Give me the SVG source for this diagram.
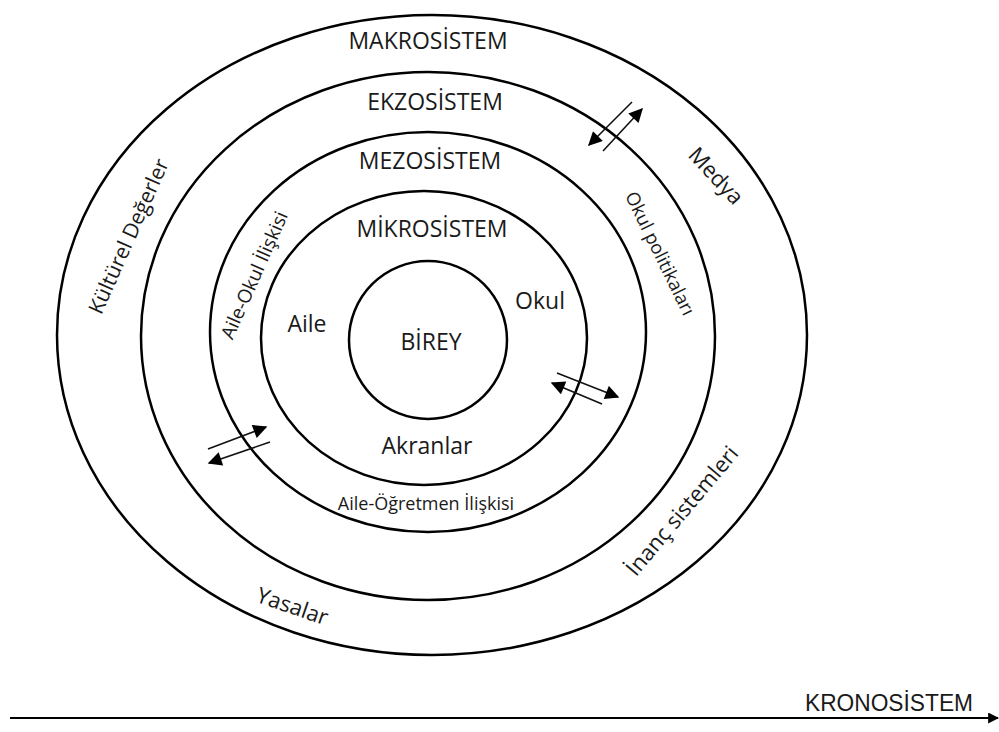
<svg xmlns="http://www.w3.org/2000/svg" width="999" height="732" viewBox="0 0 999 732">
<defs>
<marker id="ahs" viewBox="0 0 10 10" refX="9" refY="5" markerWidth="15" markerHeight="14" orient="auto" markerUnits="userSpaceOnUse">
<path d="M0,0 L10,5 L0,10 z" fill="#000"/>
</marker>
<marker id="ahk" viewBox="0 0 10 10" refX="9" refY="5" markerWidth="11" markerHeight="11" orient="auto" markerUnits="userSpaceOnUse">
<path d="M0,0 L10,5 L0,10 z" fill="#000"/>
</marker>
<style>
.ring{fill:none;stroke:#000;stroke-width:2.5}
.t{font-family:"Open Sans","Noto Sans",sans-serif;fill:#1a1a1a;text-anchor:middle;dominant-baseline:central}
.h{font-size:23px}
.a{stroke:#111;stroke-width:1.6;fill:none;marker-end:url(#ahs)}
</style>
</defs>
<rect width="999" height="732" fill="#fff"/>
<g id="makrosistem">
<ellipse class="ring" cx="432" cy="335" rx="375" ry="320"/>
<text class="t h" x="428" y="40">MAKROSİSTEM</text>
<text class="t" x="128" y="236" font-size="21" transform="rotate(-66 128 236)">Kültürel Değerler</text>
<text class="t" x="717" y="175" font-size="22" transform="rotate(47 717 175)">Medya</text>
<text class="t" x="681" y="510" font-size="22" transform="rotate(-50 681 510)">İnanç sistemleri</text>
<text class="t" x="293" y="605" font-size="22" transform="rotate(19 293 605)">Yasalar</text>
</g>
<g id="ekzosistem">
<ellipse class="ring" cx="428" cy="336" rx="287" ry="264"/>
<text class="t h" x="435" y="101">EKZOSİSTEM</text>
<text class="t" x="661" y="253" font-size="18.5" transform="rotate(64 661 253)">Okul politikaları</text>
</g>
<g id="mezosistem">
<ellipse class="ring" cx="428" cy="332" rx="218" ry="200"/>
<text class="t h" x="430" y="160">MEZOSİSTEM</text>
<text class="t" x="254" y="275" font-size="19" transform="rotate(-66 254 275)">Aile-Okul İlişkisi</text>
<text class="t" x="426" y="503" font-size="18">Aile-Öğretmen İlişkisi</text>
</g>
<g id="mikrosistem">
<ellipse class="ring" cx="424" cy="338" rx="163" ry="147"/>
<text class="t h" x="432" y="228">MİKROSİSTEM</text>
<text class="t h" x="307" y="323">Aile</text>
<text class="t h" x="540" y="300">Okul</text>
<text class="t h" x="427" y="445">Akranlar</text>
</g>
<g id="birey">
<circle class="ring" cx="428" cy="340" r="79"/>
<text class="t h" x="431" y="341">BİREY</text>
</g>
<g id="kronosistem">
<text x="973" y="711" font-family="'Liberation Sans',Arial,sans-serif" font-size="23" fill="#1a1a1a" text-anchor="end" textLength="168" lengthAdjust="spacingAndGlyphs">KRONOSİSTEM</text>
</g>
<g id="connectors">
<line class="a" x1="632" y1="102" x2="589" y2="145"/>
<line class="a" x1="603" y1="151" x2="642" y2="109"/>
<line class="a" x1="557" y1="373" x2="618" y2="397"/>
<line class="a" x1="602" y1="404" x2="552" y2="383"/>
<line class="a" x1="208" y1="449" x2="266" y2="427"/>
<line class="a" x1="270" y1="442" x2="209" y2="463"/>
<line x1="10" y1="718" x2="998" y2="718" stroke="#000" stroke-width="2" marker-end="url(#ahk)"/>
</g>
</svg>
